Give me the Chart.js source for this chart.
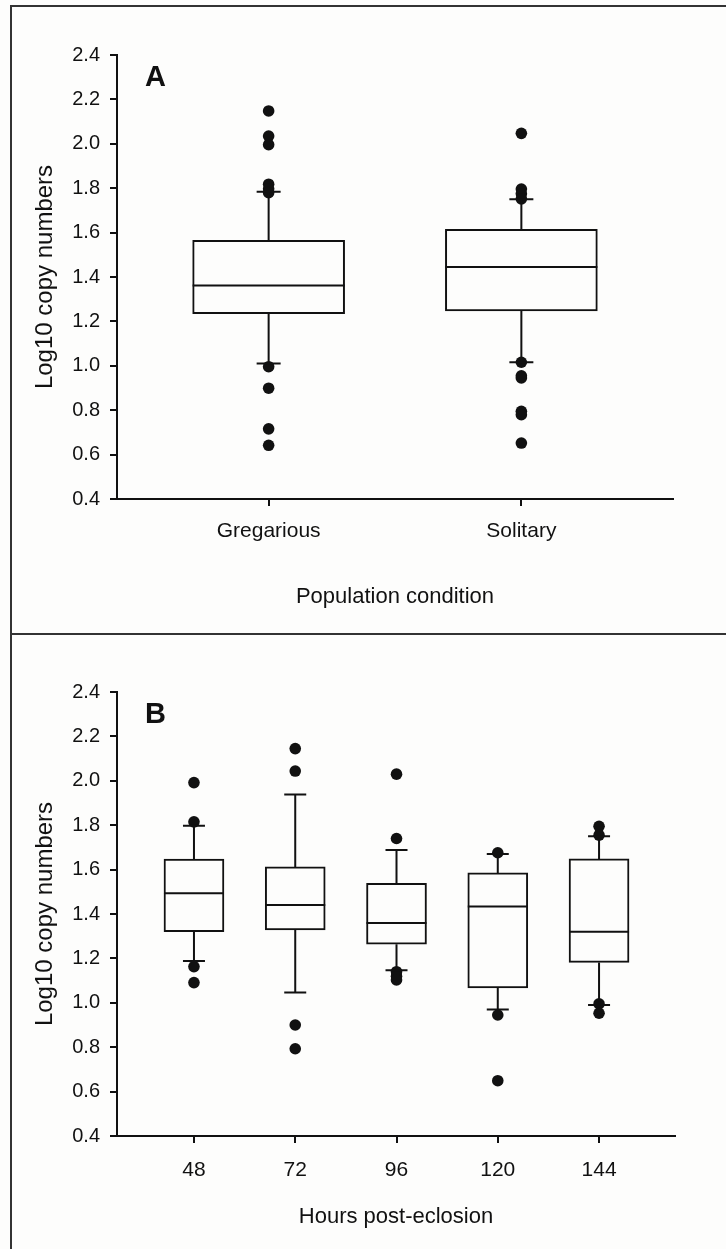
<!DOCTYPE html>
<html>
<head>
<meta charset="utf-8">
<script src="https://cdn.jsdelivr.net/npm/chart.js@4.4.1/dist/chart.umd.min.js"></script>
<style>
  html, body { margin: 0; padding: 0; background: #fdfdfc; }
  #wrap { position: relative; width: 726px; height: 1249px; overflow: hidden; }
  .frame { position: absolute; left: 10px; top: 5px; width: 720px; height: 1260px; border-top: 2px solid #333; border-left: 2px solid #333; }
  .mid { position: absolute; left: 10px; top: 633px; width: 720px; border-top: 2px solid #333; }
  canvas { position: absolute; left: 0; }
  #chartA { top: 0; }
  #chartB { top: 635px; }
</style>
</head>
<body>
<div id="wrap">
  <div class="frame"></div>
  <div class="mid"></div>
  <canvas id="chartA" width="726" height="633"></canvas>
  <canvas id="chartB" width="726" height="614"></canvas>
</div>
<script>
// Panel A - population condition
const catsA = ['Gregarious', 'Solitary'];
const q1A = [1.235, 1.247];
const medA = [1.362, 1.445];
const q3A = [1.565, 1.615];
const loA = [1.010, 1.016];
const hiA = [1.784, 1.750];
const outA = [
  [2.148, 2.035, 1.996, 1.818, 1.797, 1.780, 0.996, 0.899, 0.716, 0.642],
  [2.047, 1.796, 1.775, 1.752, 1.016, 0.955, 0.945, 0.795, 0.780, 0.652]
];

// Panel B - hours post-eclosion
const catsB = ['48', '72', '96', '120', '144'];
const q1B = [1.320, 1.328, 1.264, 1.067, 1.182];
const medB = [1.493, 1.440, 1.360, 1.434, 1.320];
const q3B = [1.647, 1.612, 1.538, 1.585, 1.648];
const loB = [1.188, 1.046, 1.147, 0.970, 0.990];
const hiB = [1.797, 1.938, 1.688, 1.670, 1.750];
const outB = [
  [1.992, 1.815, 1.163, 1.091],
  [2.145, 2.044, 0.900, 0.793],
  [2.030, 1.740, 1.140, 1.120, 1.103],
  [1.676, 0.945, 0.649],
  [1.795, 1.755, 0.995, 0.953]
];

const yTicks = [0.4, 0.6, 0.8, 1.0, 1.2, 1.4, 1.6, 1.8, 2.0, 2.2, 2.4];

Chart.defaults.font.family = "'Liberation Sans', Arial, sans-serif";
Chart.defaults.color = '#111';

// medians, whiskers, caps and the panel letter
const boxExtras = {
  id: 'boxExtras',
  afterDatasetsDraw(chart, args, o) {
    const { ctx, scales: { x, y }, chartArea } = chart;
    const bars = chart.getDatasetMeta(1).data;
    ctx.save();
    ctx.strokeStyle = '#111';
    ctx.lineWidth = 2;
    o.med.forEach((m, i) => {
      const cx = x.getPixelForValue(i + 1);
      const half = bars[i].width / 2;
      ctx.beginPath();
      // median
      ctx.moveTo(cx - half, y.getPixelForValue(m));
      ctx.lineTo(cx + half, y.getPixelForValue(m));
      // whiskers
      ctx.moveTo(cx, y.getPixelForValue(o.q3[i]));
      ctx.lineTo(cx, y.getPixelForValue(o.hi[i]));
      ctx.moveTo(cx, y.getPixelForValue(o.q1[i]));
      ctx.lineTo(cx, y.getPixelForValue(o.lo[i]));
      // caps
      ctx.moveTo(cx - o.cap / 2, y.getPixelForValue(o.hi[i]));
      ctx.lineTo(cx + o.cap / 2, y.getPixelForValue(o.hi[i]));
      ctx.moveTo(cx - o.cap / 2, y.getPixelForValue(o.lo[i]));
      ctx.lineTo(cx + o.cap / 2, y.getPixelForValue(o.lo[i]));
      ctx.stroke();
    });
    ctx.fillStyle = '#111';
    ctx.font = "bold 29px 'Liberation Sans', Arial, sans-serif";
    ctx.textBaseline = 'alphabetic';
    ctx.fillText(o.letter, chartArea.left + 28, chartArea.top + 31);
    ctx.restore();
  }
};

function makeChart(id, cfg) {
  const cats = cfg.cats;
  return new Chart(document.getElementById(id), {
    type: 'bar',
    data: {
      datasets: [
        {
          type: 'scatter',
          data: cfg.out.flatMap((arr, i) => arr.map(v => ({ x: i + 1, y: v }))),
          pointRadius: 5.8,
          pointBackgroundColor: '#111',
          pointBorderWidth: 0
        },
        {
          type: 'bar',
          data: cats.map((c, i) => ({ x: i + 1, y: [cfg.q1[i], cfg.q3[i]] })),
          backgroundColor: '#fdfdfc',
          borderColor: '#111',
          borderWidth: 2,
          borderSkipped: false,
          barThickness: cfg.boxW
        }
      ]
    },
    options: {
      responsive: false,
      animation: false,
      layout: { padding: { left: 0, top: cfg.top, right: cfg.right, bottom: 0 } },
      plugins: {
        legend: { display: false },
        tooltip: { enabled: false },
        boxExtras: { med: cfg.med, q1: cfg.q1, q3: cfg.q3, lo: cfg.lo, hi: cfg.hi, cap: cfg.cap, letter: cfg.letter }
      },
      scales: {
        x: {
          type: 'linear',
          min: cfg.xmin,
          max: cfg.xmax,
          offset: false,
          afterBuildTicks: s => { s.ticks = cats.map((c, i) => ({ value: i + 1 })); },
          afterFit: s => { s.height = cfg.xh; },
          ticks: {
            callback: v => cats[v - 1],
            font: { size: 21 },
            padding: cfg.xpad,
            maxRotation: 0
          },
          grid: { drawOnChartArea: false, offset: false, tickLength: 7, color: '#111', lineWidth: 2 },
          border: { display: true, color: '#111', width: 2 },
          title: { display: true, text: cfg.xTitle, font: { size: 22 }, padding: { bottom: cfg.xtp, top: 0 } }
        },
        y: {
          min: 0.4,
          max: 2.4,
          afterBuildTicks: s => { s.ticks = yTicks.map(v => ({ value: v })); },
          afterFit: s => { s.width = 117; },
          ticks: { callback: v => v.toFixed(1), font: { size: 20 }, padding: 10 },
          grid: { drawOnChartArea: false, tickLength: 7, color: '#111', lineWidth: 2 },
          border: { display: true, color: '#111', width: 2 },
          title: { display: true, text: 'Log10 copy numbers', font: { size: 24 }, padding: { top: 31, bottom: 0 } }
        }
      }
    },
    plugins: [boxExtras]
  });
}

makeChart('chartA', {
  cats: catsA, q1: q1A, med: medA, q3: q3A, lo: loA, hi: hiA, out: outA,
  letter: 'A', xTitle: 'Population condition',
  xmin: 0.4, xmax: 2.6, boxW: 152, cap: 24,
  top: 55, right: 53, xh: 134, xpad: 13, xtp: 23
});

makeChart('chartB', {
  cats: catsB, q1: q1B, med: medB, q3: q3B, lo: loB, hi: hiB, out: outB,
  letter: 'B', xTitle: 'Hours post-eclosion',
  xmin: 0.24, xmax: 5.75, boxW: 60, cap: 22,
  top: 57, right: 51, xh: 113, xpad: 15, xtp: 19
});
</script>
</body>
</html>
